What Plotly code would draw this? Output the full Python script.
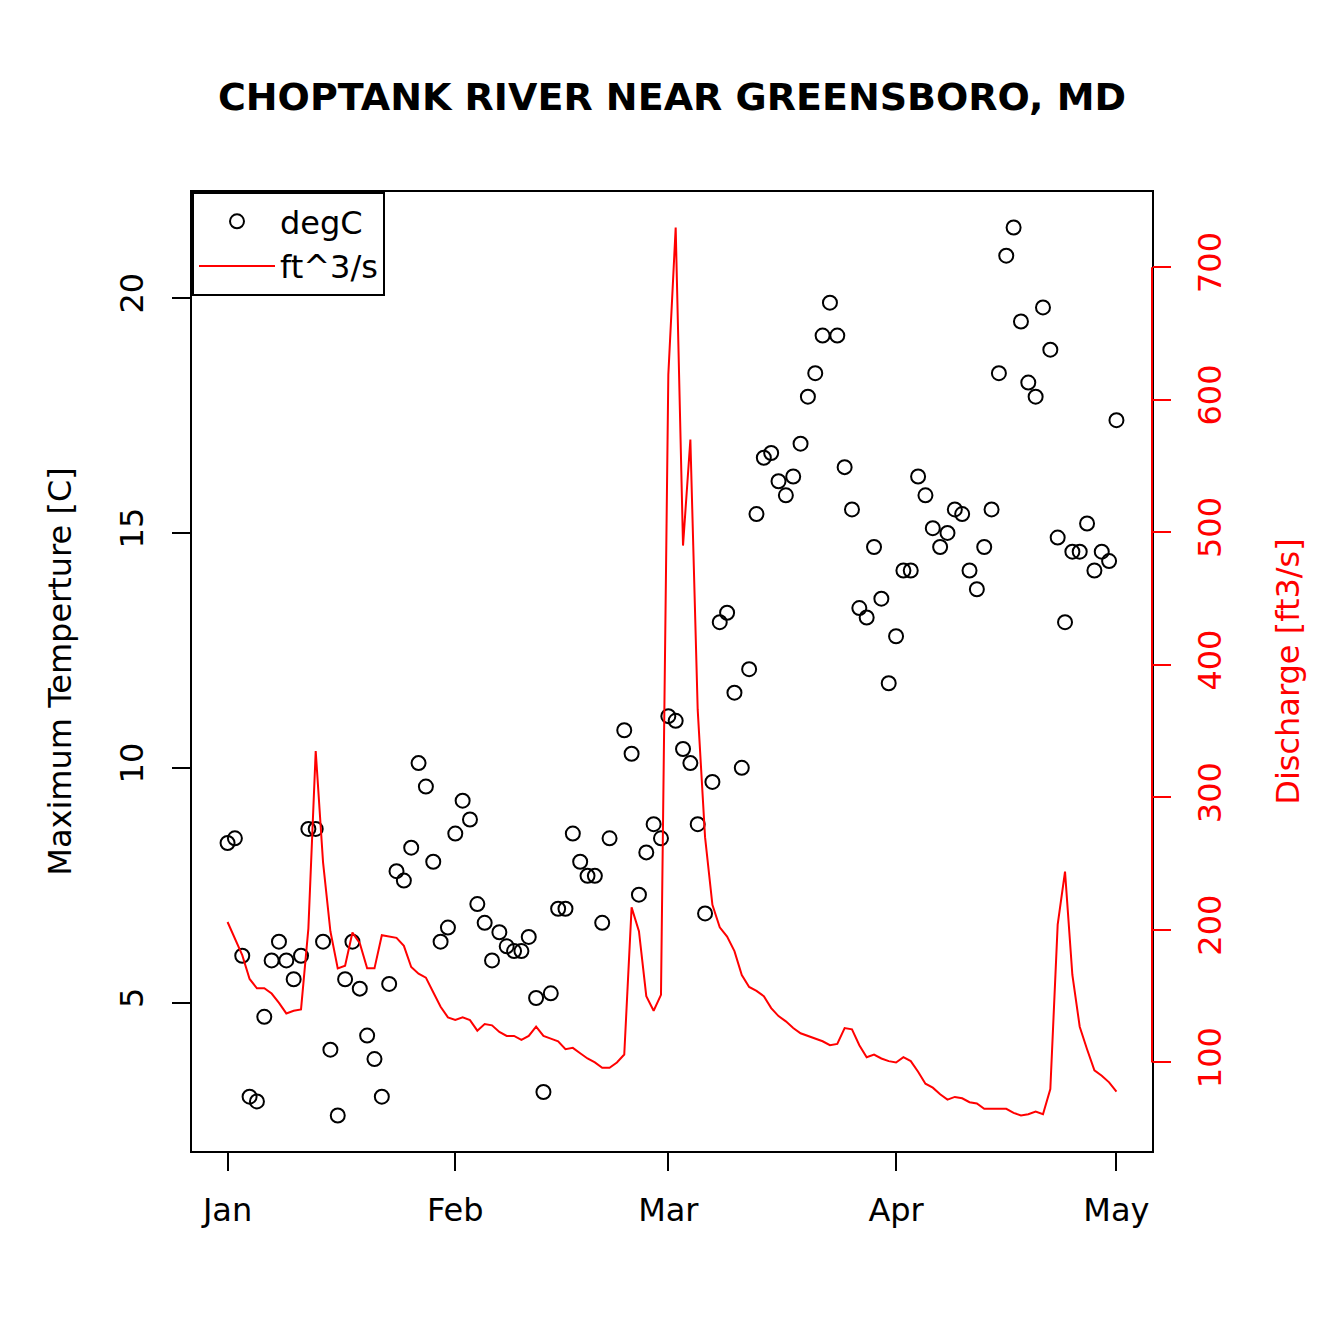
import pandas as pd
import plotly.graph_objects as go

# ---- data ----
start_date = "2012-01-01"
n_days = 122
temp_c = [
    8.4, 8.5, 6.0, 3.0, 2.9, 4.7, 5.9, 6.3, 5.9, 5.5,
    6.0, 8.7, 8.7, 6.3, 4.0, 2.6, 5.5, 6.3, 5.3, 4.3,
    3.8, 3.0, 5.4, 7.8, 7.6, 8.3, 10.1, 9.6, 8.0, 6.3,
    6.6, 8.6, 9.3, 8.9, 7.1, 6.7, 5.9, 6.5, 6.2, 6.1,
    6.1, 6.4, 5.1, 3.1, 5.2, 7.0, 7.0, 8.6, 8.0, 7.7,
    7.7, 6.7, 8.5, None, 10.8, 10.3, 7.3, 8.2, 8.8, 8.5,
    11.1, 11.0, 10.4, 10.1, 8.8, 6.9, 9.7, 13.1, 13.3, 11.6,
    10.0, 12.1, 15.4, 16.6, 16.7, 16.1, 15.8, 16.2, 16.9, 17.9,
    18.4, 19.2, 19.9, 19.2, 16.4, 15.5, 13.4, 13.2, 14.7, 13.6,
    11.8, 12.8, 14.2, 14.2, 16.2, 15.8, 15.1, 14.7, 15.0, 15.5,
    15.4, 14.2, 13.8, 14.7, 15.5, 18.4, 20.9, 21.5, 19.5, 18.2,
    17.9, 19.8, 18.9, 14.9, 13.1, 14.6, 14.6, 15.2, 14.2, 14.6,
    14.4, 17.4,
]
discharge_cfs = [
    206, 194, 181, 163, 156, 156, 152, 145, 137, 139,
    140, 201, 335, 251, 199, 171, 173, 198, 190, 171,
    171, 196, 195, 194, 188, 172, 167, 164, 153, 142,
    134, 132, 134, 132, 124, 129, 128, 123, 120, 120,
    117, 120, 127, 120, 118, 116, 110, 111, 107, 103,
    100, 96, 96, 100, 106, 217, 199, 150, 139, 151,
    619, 730, 490, 570, 366, 270, 219, 202, 195, 184,
    166, 157, 154, 150, 141, 135, 131, 126, 122, 120,
    118, 116, 113, 114, 126, 125, 113, 104, 106, 103,
    101, 100, 104, 101, 93, 84, 81, 76, 72, 74,
    73, 70, 69, 65, 65, 65, 65, 62, 60, 61,
    63, 61, 80, 204, 244, 166, 127, 110, 94, 90,
    85, 78,
]
month_ticks = ["2012-01-01", "2012-02-01", "2012-03-01", "2012-04-01", "2012-05-01"]
month_labels = ["Jan", "Feb", "Mar", "Apr", "May"]
temp_ticks = [5, 10, 15, 20]
q_ticks = [100, 200, 300, 400, 500, 600, 700]

dates = pd.date_range(start_date, periods=n_days, freq="D")

# R-style 4% axis padding
def padded(lo, hi, frac=0.04):
    span = hi - lo
    return [lo - frac * span, hi + frac * span]

tvals = [t for t in temp_c if t is not None]
y_range = padded(min(tvals), max(tvals))
y2_range = padded(min(discharge_cfs), max(discharge_cfs))
span_days = (dates[-1] - dates[0])
x_range = [dates[0] - span_days * 0.04, dates[-1] + span_days * 0.04]

FONT = "DejaVu Sans"
RED = "#FF0000"
FS = 32

fig = go.Figure()
fig.add_trace(go.Scatter(
    x=dates, y=temp_c, mode="markers", name="degC",
    marker=dict(symbol="circle-open", size=14, color="black", line=dict(width=2, color="black")),
    yaxis="y",
))
fig.add_trace(go.Scatter(
    x=dates, y=discharge_cfs, mode="lines", name="ft^3/s",
    line=dict(color=RED, width=2),
    yaxis="y2",
))

fig.update_layout(
    width=1344, height=1344,
    paper_bgcolor="white", plot_bgcolor="white",
    margin=dict(l=184, r=200, t=184, b=201, pad=0),
    font=dict(family=FONT, size=FS, color="black"),
    title=dict(
        text="<b>CHOPTANK RIVER NEAR GREENSBORO, MD</b>",
        x=0.5 - 8 / 1344, xanchor="center", y=1 - 89 / 1344, yanchor="middle",
        font=dict(family=FONT, size=38, color="black"),
    ),
    xaxis=dict(
        type="date", range=[x.strftime("%Y-%m-%d %H:%M") for x in x_range],
        tickvals=month_ticks, ticktext=month_labels,
        ticks="outside", ticklen=18, tickwidth=2, tickcolor="black",
        showline=True, linecolor="black", linewidth=2, mirror=True,
        showgrid=False, zeroline=False,
        tickfont=dict(size=FS), ticklabelstandoff=12,
    ),
    yaxis=dict(
        range=y_range, tickvals=temp_ticks, tickangle=-90,
        ticks="outside", ticklen=18, tickwidth=2, tickcolor="black",
        showline=True, linecolor="black", linewidth=2, mirror=True,
        showgrid=False, zeroline=False,
        tickfont=dict(size=FS), ticklabelstandoff=16,
        title=dict(text="Maximum Temperture [C]", font=dict(size=FS), standoff=32),
        automargin=False,
    ),
    yaxis2=dict(
        range=y2_range, tickvals=q_ticks, tickangle=-90,
        overlaying="y", side="right",
        ticks="outside", ticklen=18, tickwidth=2, tickcolor=RED,
        showline=False, showgrid=False, zeroline=False,
        tickfont=dict(size=FS, color=RED), ticklabelstandoff=12,
        title=dict(text="Discharge [ft3/s]", font=dict(size=FS, color=RED), standoff=48),
        automargin=False,
    ),
    legend=dict(
        x=0, y=1, xanchor="left", yanchor="top",
        bgcolor="white", bordercolor="black", borderwidth=2,
        font=dict(size=FS), itemwidth=76,
        tracegroupgap=0,
    ),
    showlegend=True,
)

# red right axis line spanning the tick range (R-style axis line)
fig.add_shape(type="line", xref="paper", x0=1, x1=1, yref="y2",
              y0=q_ticks[0], y1=q_ticks[-1], line=dict(color=RED, width=2))

fig.write_html("out.html")
